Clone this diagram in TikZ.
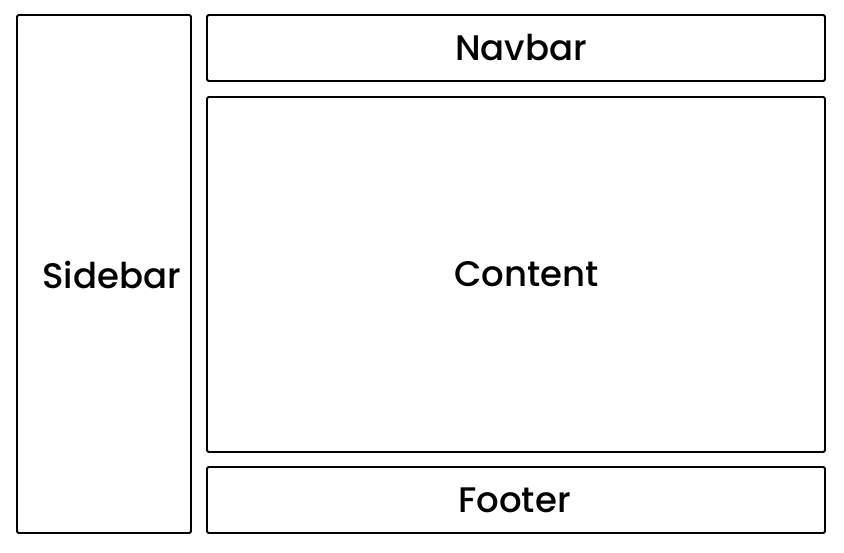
\documentclass[tikz,border=0pt]{standalone}
\usepackage{fontspec}
\setmainfont{Poppins}[UprightFont={* Medium}]
\begin{document}
\begin{tikzpicture}[x=1pt,y=-1pt,
  panel/.style={draw=black,line width=1.8pt,rounded corners=1.5pt},
  lbl/.style={font=\fontsize{35.5}{40}\selectfont,inner sep=0pt}]
\useasboundingbox (0,0) rectangle (844,552);
\draw[panel] (17,15) rectangle (191,533);
\draw[panel] (207,15) rectangle (825,81);
\draw[panel] (207,97) rectangle (825,452);
\draw[panel] (207,467) rectangle (825,533);
\node[lbl] (sidebar) at (111.5,275) {Sidebar};
\node[lbl] (navbar) at (521,48) {Navbar};
\node[lbl] (content) at (526.5,274) {Content};
\node[lbl] (footer) at (514.5,500) {Footer};
\end{tikzpicture}
\end{document}
